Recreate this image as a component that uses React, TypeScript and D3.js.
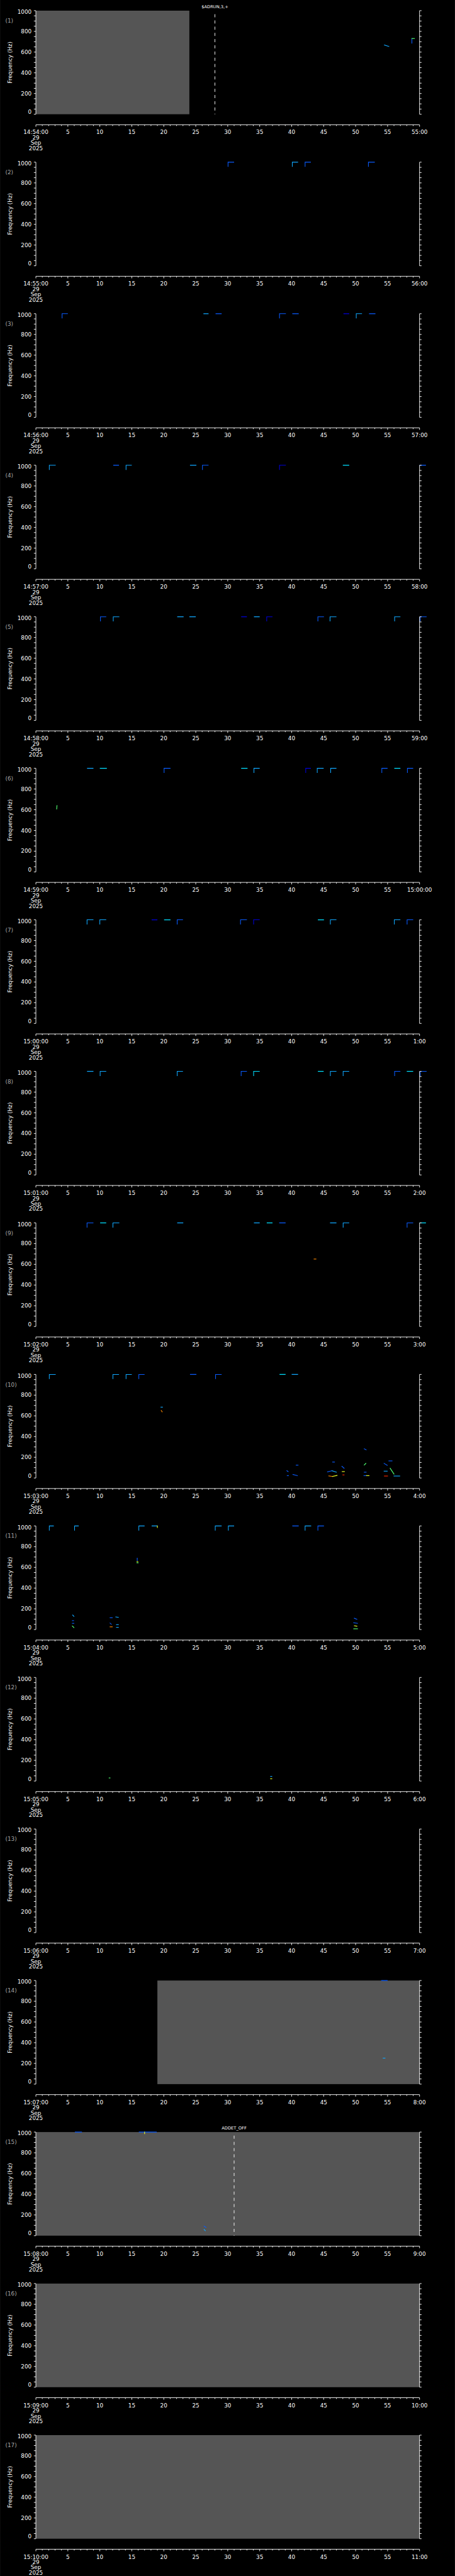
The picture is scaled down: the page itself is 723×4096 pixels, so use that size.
import React from 'react';
import { scaleLinear, range } from 'd3';

// one panel per minute, 14:54 .. 15:10
const startLabels = [
  '14:54:00', '14:55:00', '14:56:00', '14:57:00', '14:58:00', '14:59:00',
  '15:00:00', '15:01:00', '15:02:00', '15:03:00', '15:04:00', '15:05:00',
  '15:06:00', '15:07:00', '15:08:00', '15:09:00', '15:10:00',
];
const endLabels = [
  '55:00', '56:00', '57:00', '58:00', '59:00', '15:00:00', '1:00', '2:00', '3:00',
  '4:00', '5:00', '6:00', '7:00', '8:00', '9:00', '10:00', '11:00',
];
const dateLines = ['29', 'Sep', '2025'];
const freqTicks = [0, 200, 400, 600, 800, 1000];

// [panel, fromSec, toSec] : spans with no data (grey)
const gaps: [number, number, number][] = [
  [1, 0, 24], [14, 19, 60], [15, 0, 60], [16, 0, 60], [17, 0, 60],
];

// command markers
const markerPanels = [1, 15];
const markerTimes = [28, 31];
const markerLabels = ['$ADRUN,3,+', 'ADDET_OFF'];

// tone steps at 1000 Hz with a rising edge: [panel, t0, t1, colour]
const hooks: [number, number, number, string][] = [
  [2, 30.05, 31.0, 'b'], [2, 40.1, 41.0, 'c'], [2, 42.1, 43.0, 'b'], [2, 52.0, 53.0, 'b'],
  [3, 4.1, 5.0, 'b'], [3, 38.1, 39.1, 'b'], [3, 50.1, 51.0, 'c'],
  [4, 2.1, 3.1, 'c'], [4, 14.1, 15.0, 'c'], [4, 26.05, 27.0, 'b'], [4, 38.1, 39.1, 'd'],
  [5, 10.1, 11.0, 'b'], [5, 12.1, 13.05, 'c'], [5, 36.1, 37.0, 'd'], [5, 44.1, 45.05, 'b'],
  [5, 46.0, 47.0, 'c'], [5, 56.1, 57.0, 'c'], [5, 60.1, 61.1, 'b'],
  [6, 20.05, 21.05, 'b'], [6, 34.1, 35.0, 'c'], [6, 42.2, 43.0, 'd'], [6, 44.0, 45.0, 'c'],
  [6, 46.1, 47.0, 'c'], [6, 54.1, 55.0, 'b'], [6, 58.1, 59.0, 'b'],
  [7, 8.0, 9.0, 'c'], [7, 10.0, 11.0, 'c'], [7, 22.1, 23.0, 'b'], [7, 32.0, 33.0, 'b'],
  [7, 34.05, 35.0, 'd'], [7, 46.05, 47.0, 'c'], [7, 56.05, 57.0, 'c'], [7, 58.05, 59.0, 'b'],
  [8, 10.05, 11.0, 'c'], [8, 22.1, 23.0, 'c'], [8, 32.1, 33.0, 'b'], [8, 34.05, 35.0, 'l'],
  [8, 46.05, 47.0, 'c'], [8, 48.05, 49.0, 'c'], [8, 56.1, 57.0, 'b'], [8, 60.1, 61.1, 'b'],
  [9, 8.0, 9.0, 'b'], [9, 12.05, 13.05, 'c'], [9, 48.05, 49.0, 'c'], [9, 58.05, 59.0, 'b'],
  [10, 2.1, 3.1, 'c'], [10, 12.05, 13.0, 'c'], [10, 14.1, 15.0, 'c'], [10, 16.1, 17.0, 'b'],
  [10, 28.1, 29.05, 'b'],
  [11, 2.1, 2.8, 'c'], [11, 6.05, 6.7, 'c'], [11, 16.1, 17.0, 'c'], [11, 28.05, 29.05, 'c'],
  [11, 30.1, 31.0, 'c'], [11, 42.1, 43.05, 'c'], [11, 44.1, 45.05, 'b'],
];

// flat tones at 1000 Hz: [panel, t0, t1, colour]
const bars: [number, number, number, string][] = [
  [3, 26.2, 27.0, 'c'], [3, 28.1, 29.05, 'b'], [3, 40.1, 41.1, 'b'], [3, 48.1, 49.0, 'd'],
  [3, 52.1, 53.1, 'b'],
  [4, 12.1, 13.0, 'b'], [4, 24.1, 25.1, 'c'], [4, 48.0, 49.0, 'l'], [4, 60.0, 61.0, 'b'],
  [5, 22.1, 23.1, 'c'], [5, 24.0, 25.0, 'c'], [5, 32.1, 33.0, 'd'], [5, 34.1, 35.0, 'c'],
  [6, 8.0, 9.0, 'c'], [6, 10.0, 11.1, 'l'], [6, 32.1, 33.1, 'l'], [6, 56.05, 57.0, 'l'],
  [7, 18.1, 19.0, 'd'], [7, 20.05, 21.05, 'l'], [7, 44.1, 45.05, 'l'],
  [8, 8.0, 9.0, 'c'], [8, 44.1, 45.0, 'l'], [8, 58.0, 59.0, 'l'],
  [9, 10.05, 11.0, 'l'], [9, 22.1, 23.05, 'c'], [9, 34.1, 35.0, 'c'], [9, 36.1, 37.0, 'l'],
  [9, 38.05, 39.05, 'b'], [9, 46.0, 47.0, 'c'], [9, 60.0, 61.0, 'l'],
  [10, 24.1, 25.1, 'b'], [10, 38.1, 39.05, 'l'], [10, 40.0, 41.0, 'c'],
  [11, 18.1, 19.0, 'c'], [11, 40.1, 41.1, 'b'],
  [14, 54.0, 55.0, 'b'],
  [15, 6.1, 7.2, 'b'], [15, 16.1, 18.9, 'b'],
];

// small spectral blips: [panel, t0, t1, f0, f1, colour]
const blips: [number, number, number, number, number, string][] = [
  [1, 54.5, 55.2, 668, 655, 'c'], [1, 58.8, 58.8, 686, 731, 'b'], [1, 58.8, 59.2, 731, 731, 'g'],
  [6, 3.25, 3.3, 607, 640, 'g'],
  [9, 43.5, 43.8, 651, 651, 'o'],
  [10, 19.55, 19.8, 684, 684, 'c'], [10, 19.6, 19.75, 652, 639, 'o'],
  [10, 39.25, 39.45, 70, 62, 'b'], [10, 39.3, 39.5, 23, 23, 'b'], [10, 40.2, 40.9, 34, 23, 'b'],
  [10, 40.7, 41.0, 124, 124, 'b'], [10, 45.6, 46.3, 60, 70, 'b'], [10, 46.3, 47.0, 70, 56, 'c'],
  [10, 45.8, 46.4, 20, 15, 'o'], [10, 46.4, 47.1, 15, 25, 'y'], [10, 46.4, 46.7, 154, 154, 'b'],
  [10, 47.85, 48.2, 113, 94, 'b'], [10, 47.9, 48.25, 62, 62, 'y'], [10, 48.0, 48.2, 30, 30, 'r'],
  [10, 51.35, 51.65, 282, 273, 'b'], [10, 51.35, 51.6, 126, 141, 'g'], [10, 51.35, 51.65, 56, 56, 'b'],
  [10, 51.3, 51.7, 23, 23, 'b'], [10, 51.7, 52.1, 23, 23, 'y'], [10, 54.45, 54.95, 141, 122, 'b'],
  [10, 55.2, 55.7, 165, 165, 'b'], [10, 54.45, 54.95, 66, 66, 'c'], [10, 54.5, 55.0, 19, 19, 'r'],
  [10, 55.4, 56.0, 94, 38, 'g'], [10, 56.0, 56.9, 19, 19, 'c'],
  [11, 19.0, 19.0, 1000, 985, 'y'],
  [11, 15.85, 15.85, 689, 665, 'b'], [11, 15.8, 15.95, 655, 655, 'y'], [11, 15.8, 16.0, 644, 644, 'g'],
  [11, 5.75, 5.95, 140, 127, 'c'], [11, 5.7, 5.9, 86, 86, 'b'], [11, 5.7, 5.95, 60, 60, 'b'],
  [11, 5.7, 5.95, 34, 19, 'g'], [11, 11.6, 11.95, 114, 114, 'b'], [11, 11.6, 11.8, 62, 50, 'b'],
  [11, 11.6, 11.95, 26, 26, 'o'], [11, 12.5, 12.9, 122, 118, 'c'], [11, 12.6, 12.9, 47, 47, 'c'],
  [11, 12.6, 12.9, 21, 21, 'c'], [11, 49.8, 50.2, 109, 99, 'b'], [11, 49.7, 50.3, 66, 60, 'b'],
  [11, 49.8, 50.2, 36, 32, 'y'], [11, 49.7, 50.3, 7, 7, 'g'],
  [12, 11.45, 11.6, 30, 30, 'g'], [12, 36.7, 36.9, 45, 45, 'c'], [12, 36.7, 36.9, 22, 22, 'y'],
  [14, 54.3, 54.6, 251, 251, 'c'],
  [15, 17.0, 17.0, 1000, 985, 'y'], [15, 26.3, 26.6, 92, 80, 'b'], [15, 26.3, 26.5, 60, 48, 'c'],
];

const palette: Record<string, string> = {
  b: '#0a5cff', c: '#10a8ff', l: '#00e0ff', d: '#0000d8',
  g: '#50ff70', y: '#e8ff20', o: '#ff8a00', r: '#ff2a00',
};

// layout in reference pixels (viewBox 1024 x 5802, rendered at 0.705)
const W = 1024;
const H = 5802;
const PITCH = H / 17;
const TOP = 24;
const PLOT_H = 233.3;
const AXIS_Y = 257;
const HOOK_LOW = 955;
const FONT = '"DejaVu Sans", Verdana, sans-serif';

const x = scaleLinear().domain([0, 60]).range([80.7, 944.3]);
const y = scaleLinear().domain([0, 1000]).range([PLOT_H, 0]);

const Panel = ({ idx }: { idx: number }) => {
  const n = idx + 1;
  const x0 = x(0);
  const x1 = x(60);
  const mi = markerPanels.indexOf(n);
  return (
    <g transform={`translate(0,${TOP + idx * PITCH})`}>
      {gaps.filter((g) => g[0] === n).map((g, i) => (
        <rect key={i} x={x(g[1])} y={0} width={x(g[2]) - x(g[1])} height={PLOT_H} fill="#555555" />
      ))}
      {hooks.filter((h) => h[0] === n).map((h, i) => (
        <path key={i} d={`M${x(h[1])},${y(HOOK_LOW)}V${y(1000)}H${x(h[2])}`}
          fill="none" stroke={palette[h[3]]} strokeWidth={1.5} />
      ))}
      {bars.filter((b) => b[0] === n).map((b, i) => (
        <line key={i} x1={x(b[1])} x2={x(b[2])} y1={y(1000)} y2={y(1000)}
          stroke={palette[b[3]]} strokeWidth={1.8} />
      ))}
      {blips.filter((b) => b[0] === n).map((b, i) => (
        <line key={i} x1={x(b[1])} x2={x(b[2])} y1={y(b[3])} y2={y(b[4])}
          stroke={palette[b[5]]} strokeWidth={1.6} strokeLinecap="square" />
      ))}
      {mi >= 0 && (
        <g>
          <line x1={x(markerTimes[mi])} x2={x(markerTimes[mi])} y1={8} y2={PLOT_H}
            stroke="#fff" strokeWidth={1.3} strokeDasharray="7 7" />
          <text x={x(markerTimes[mi])} y={-9} dy="0.35em" textAnchor="middle"
            fill="#fff" fontSize={9.5} fontFamily={FONT}>{markerLabels[mi]}</text>
        </g>
      )}
      {/* left and right frequency axes */}
      <line x1={x0} x2={x0} y1={0} y2={PLOT_H} stroke="#fff" strokeWidth={1.3} />
      <line x1={x1} x2={x1} y1={0} y2={PLOT_H} stroke="#fff" strokeWidth={1.3} />
      {y.ticks(20).map((v) => (
        <g key={v}>
          <line x1={x0 - 4.5} x2={x0} y1={y(v)} y2={y(v)} stroke="#fff" strokeWidth={1.3} />
          <line x1={x1} x2={x1 + 4.5} y1={y(v)} y2={y(v)} stroke="#fff" strokeWidth={1.3} />
        </g>
      ))}
      {freqTicks.map((v) => (
        <text key={v} x={71} y={y(v) + (v === 1000 ? 3 : v === 0 ? -5 : 0)} dy="0.35em"
          textAnchor="end" fill="#fff" fontSize={12.5} fontFamily={FONT}>{v}</text>
      ))}
      <text transform={`translate(23,${PLOT_H / 2}) rotate(-90)`} dy="0.35em" textAnchor="middle"
        fill="#fff" fontSize={12.5} fontFamily={FONT}>Frequency (Hz)</text>
      <text x={12} y={22.7} dy="0.35em" fill="#a8a8a8" fontSize={12.5} fontFamily={FONT}>({n})</text>
      {/* time axis */}
      <line x1={x0} x2={x1} y1={AXIS_Y} y2={AXIS_Y} stroke="#fff" strokeWidth={1.3} />
      {range(0, 61).map((s) => (
        <line key={s} x1={x(s)} x2={x(s)} y1={AXIS_Y} y2={AXIS_Y + (s % 5 === 0 ? 4.5 : 2.8)}
          stroke="#fff" strokeWidth={1.3} />
      ))}
      {range(0, 61, 5).map((s) => (
        <text key={s} x={x(s)} y={AXIS_Y + 17} dy="0.35em" textAnchor="middle" fill="#fff"
          fontSize={12.5} fontFamily={FONT}>
          {s === 0 ? startLabels[idx] : s === 60 ? endLabels[idx] : String(s)}
        </text>
      ))}
      {dateLines.map((d, i) => (
        <text key={d} x={x0} y={AXIS_Y + 29 + i * 12} dy="0.35em" textAnchor="middle" fill="#fff"
          fontSize={12.5} fontFamily={FONT}>{d}</text>
      ))}
    </g>
  );
};

export default function App() {
  return (
    <svg width={723} height={4096} viewBox={`0 0 ${W} ${H}`}
      style={{ position: 'absolute', left: 0, top: 0, display: 'block' }}>
      <rect x={0} y={0} width={W} height={H} fill="#000" />
      {startLabels.map((_, i) => <Panel key={i} idx={i} />)}
    </svg>
  );
}
